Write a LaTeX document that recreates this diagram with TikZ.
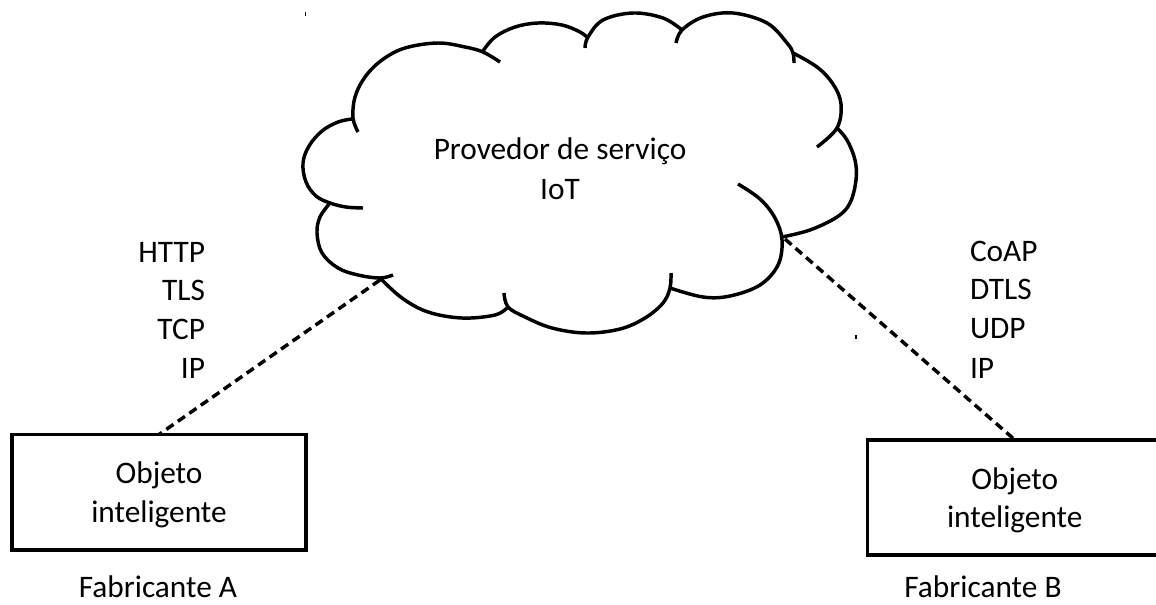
\documentclass[tikz,border=0pt]{standalone}
\usepackage{fontspec}
\setmainfont{Carlito}
\begin{document}
\begin{tikzpicture}[x=0.75pt, y=-0.75pt,
  every node/.style={inner sep=0pt, outer sep=0pt, font=\fontsize{23.5}{29}\selectfont},
  cloudline/.style={line width=2.6pt, line join=round},
  bump/.style={smooth, tension=0.6},
  link/.style={line width=2.6pt, dash pattern=on 6.5pt off 4pt},
  device/.style={draw, line width=2.7pt, minimum width=220.9pt, minimum height=86.6pt, align=center, text depth=0pt},
  proto/.style={anchor=base},
  tickmark/.style={line width=1.2pt}]
\useasboundingbox (0,0) rectangle (1156,604);

% cloud outline, one arc per lobe
\draw[cloudline] plot[bump] coordinates {(352,119) (338,122) (322,131) (309,146) (303,163) (306,182) (316,196) (330,203) (346,207) (363,208)};
\draw[cloudline] plot[bump] coordinates {(358,132) (353,118) (355,97) (365,77) (382,60) (405,48) (438,43) (465,47) (483,52) (500,62)};
\draw[cloudline] plot[bump] coordinates {(483,51) (495,37) (515,27) (538,23) (562,25) (580,32) (588,38)};
\draw[cloudline] plot[bump] coordinates {(585,48) (588,37) (603,20) (633,13) (663,18) (682,30)};
\draw[cloudline] plot[bump] coordinates {(676,43) (682,30) (703,17) (733,13) (767,23) (787,43) (793,53) (794,63)};
\draw[cloudline] plot[bump] coordinates {(793,53) (817,67) (833,84) (841,104) (837,128) (817,147)};
\draw[cloudline] plot[bump] coordinates {(837,128) (847,140) (855,160) (856,180) (850,203) (837,217) (810,230) (782,237)};
\draw[cloudline] plot[bump] coordinates {(738,184) (760,199) (775,218) (782,240) (778,265) (760,285) (730,296) (703,297) (670,288)};
\draw[cloudline] plot[bump] coordinates {(671,273) (670,288) (663,303) (645,318) (620,329) (586,333) (552,328) (525,317) (508,307) (504,293)};
\draw[cloudline] plot[bump] coordinates {(508,307) (495,315) (462,318) (428,312) (402,298) (380,278)};
\draw[cloudline] plot[bump] coordinates {(330,203) (320,217) (317,233) (322,253) (338,268) (358,275) (380,278) (393,275)};

% cloud text
\node[proto] (svc1) at (560,159) {Provedor de serviço};
\node[proto] (svc2) at (560,199) {IoT};

% attachment points on the cloud
\coordinate (cl) at (380,280);
\coordinate (cr) at (785,239);

% devices
\node[device] (objA) at (159,492.25) {Objeto\\inteligente};
\node[device] (objB) at (1014.75,497.5) {Objeto\\inteligente};

\node[proto] (fabA) at (158,597) {Fabricante A};
\node[proto] (fabB) at (983,597) {Fabricante B};

% links
\draw[link] (cl) -- (objA.north);
\draw[link] (cr) -- (objB.north);

% protocol stacks
\node[proto, anchor=base east] (httpA) at (205,262) {HTTP};
\node[proto, anchor=base east] (tlsA) at (205,300) {TLS};
\node[proto, anchor=base east] (tcpA) at (205,339) {TCP};
\node[proto, anchor=base east] (ipA) at (205,378) {IP};

\node[proto, anchor=base west] (coapB) at (970,261) {CoAP};
\node[proto, anchor=base west] (dtlsB) at (970,299) {DTLS};
\node[proto, anchor=base west] (udpB) at (970,338) {UDP};
\node[proto, anchor=base west] (ipB) at (970,378) {IP};

% small stray marks
\draw[tickmark] (305.5,12) -- (305.5,16);
\draw[tickmark] (856,335) -- (856,339);
\end{tikzpicture}
\end{document}
